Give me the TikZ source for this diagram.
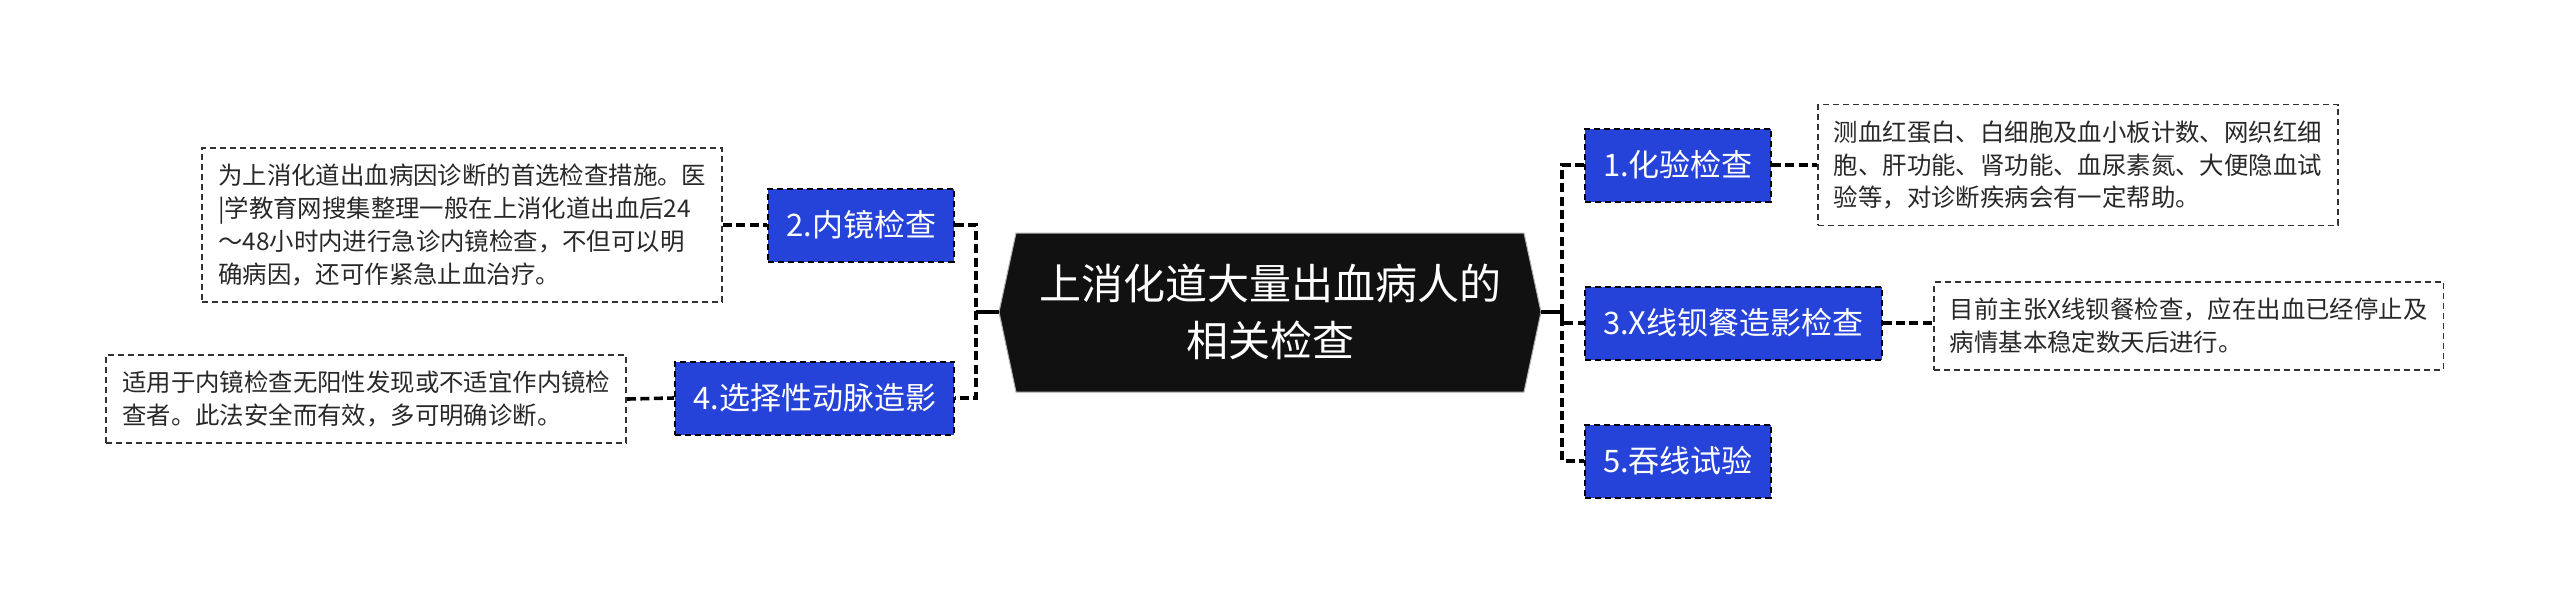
\documentclass[tikz,border=0pt]{standalone}
\usepackage{fontspec}
\setmainfont{Noto Sans CJK SC}
\definecolor{nodeblue}{RGB}{38,67,217}
\definecolor{descgray}{RGB}{50,50,50}
\definecolor{textgray}{RGB}{40,40,40}
\definecolor{centerfill}{RGB}{17,17,17}
\begin{document}
\begin{tikzpicture}[x=0.5pt,y=-0.5pt,
  bluebox/.style={draw=black, dash pattern=on 3pt off 2pt, line width=1pt, fill=nodeblue, text=white,
    font=\fontsize{15.5pt}{18pt}\selectfont, minimum height=36.5pt, inner xsep=9pt, inner ysep=0pt},
  descbox/.style={draw=descgray, line width=0.8pt, dash pattern=on 3pt off 2pt, fill=white, align=left,
    font=\fontsize{12.2pt}{16.4pt}\selectfont, inner xsep=8pt, inner ysep=8pt, text=textgray},
  conn/.style={line width=1.8pt, dash pattern=on 4.5pt off 2.2pt, draw=black},
  solidconn/.style={line width=1.8pt, draw=black}]
\useasboundingbox (0,0) rectangle (2560,602);
% central node
\fill[centerfill, draw=gray!60, line width=0.5pt] (999,312) -- (1016,233) -- (1524,233) -- (1541,312) -- (1524,392) -- (1016,392) -- cycle;
\node[text=white, align=center, font=\fontsize{21pt}{28.5pt}\selectfont] (c) at (1270,312) {上消化道大量出血病人的\\相关检查};
\coordinate (cl) at (999,312);
\coordinate (cr) at (1541,312);
\coordinate (lt) at (976,312);
\coordinate (rt) at (1562,312);
% left
\node[bluebox, anchor=east] (n2) at (955,225) {2.内镜检查};
\node[bluebox, anchor=east] (n4) at (955,398) {4.选择性动脉造影};
\node[descbox, anchor=east] (d2) at (723,225) {为上消化道出血病因诊断的首选检查措施。医\\|学教育网搜集整理一般在上消化道出血后24\\～48小时内进行急诊内镜检查，不但可以明\\确病因，还可作紧急止血治疗。};
\node[descbox, anchor=east] (d4) at (627,399) {适用于内镜检查无阳性发现或不适宜作内镜检\\查者。此法安全而有效，多可明确诊断。};
% right
\node[bluebox, anchor=west] (n1) at (1584,165) {1.化验检查};
\node[bluebox, anchor=west] (n3) at (1584,323) {3.X线钡餐造影检查};
\node[bluebox, anchor=west] (n5) at (1584,461) {5.吞线试验};
\node[descbox, anchor=west] (d1) at (1817,165) {测血红蛋白、白细胞及血小板计数、网织红细\\胞、肝功能、肾功能、血尿素氮、大便隐血试\\验等，对诊断疾病会有一定帮助。};
\node[descbox, anchor=west] (d3) at (1933,326) {目前主张X线钡餐检查，应在出血已经停止及\\病情基本稳定数天后进行。};
% connectors
\draw[solidconn] (cl) -- (lt);
\draw[solidconn] (cr) -- (rt);
\draw[conn] (n2.east) -| (lt) |- (n4.east);
\draw[conn] (n1.west) -| (rt) |- (n5.west);
\draw[conn] (rt) |- (n3.west);
\draw[conn] (d2.east) -- (n2.west);
\draw[conn] (d4.east) -- (n4.west);
\draw[conn] (n1.east) -- (d1.west);
\draw[conn] (n3.east) -- (d3.west |- n3.east);
\end{tikzpicture}
\end{document}
